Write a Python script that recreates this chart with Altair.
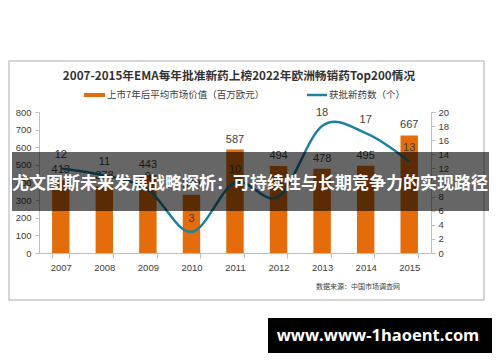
import altair as alt
import pandas as pd

# ---- data ----
years = ["2007", "2008", "2009", "2010", "2011", "2012", "2013", "2014", "2015"]
market_value = [413, 378, 443, 330, 587, 494, 478, 495, 667]   # 上市7年后平均市场价值（百万欧元）
approved = [12, 11, 9, 3, 10, 8, 18, 17, 13]                    # 获批新药数（个）
left_ticks = [0, 100, 200, 300, 400, 500, 600, 700, 800]
right_ticks = [0, 2, 4, 6, 8, 10, 12, 14, 16, 18, 20]

title_text = "2007-2015年EMA每年批准新药上榜2022年欧洲畅销药Top200情况"
legend_bar = "上市7年后平均市场价值（百万欧元）"
legend_line = "获批新药数（个）"
source_text = "数据来源：中国市场调查网"
banner_text = "尤文图斯未来发展战略探析：可持续性与长期竞争力的实现路径"
watermark_text = "www.www-1haoent.com"

ORANGE = "#E46C0A"
BLUE = "#1F80A3"
GRAY_TXT = "#404040"
AXIS_GRAY = "#BFBFBF"
CJK = "Noto Sans CJK SC"
NUM = "Liberation Sans"

df = pd.DataFrame({"year": years, "value": market_value, "count": approved})

def one(t):
    return alt.Chart(pd.DataFrame({"t": [t]}))

x_axis = alt.Axis(title=None, labelAngle=0, tickBand="extent", tickSize=5,
                  tickColor=AXIS_GRAY, domainColor=AXIS_GRAY, labelPadding=4,
                  labelOverlap=False, labelFont=NUM, labelFontSize=9.5, labelColor=GRAY_TXT)
x_scale = alt.Scale(paddingInner=0.6, paddingOuter=0.3)
yl_axis = alt.Axis(title=None, orient="left", values=left_ticks, grid=False,
                   domainColor=AXIS_GRAY, tickColor=AXIS_GRAY, tickSize=4,
                   labelOverlap=False, labelFont=NUM, labelFontSize=9.5,
                   labelColor=GRAY_TXT, labelPadding=4)
yl_scale = alt.Scale(domain=[0, 800], nice=False)
yr_axis = alt.Axis(title=None, orient="right", values=right_ticks, grid=False,
                   domainColor=AXIS_GRAY, tickColor=AXIS_GRAY, tickSize=4,
                   labelOverlap=False, labelFont=NUM, labelFontSize=9.5,
                   labelColor=GRAY_TXT, labelPadding=3)
yr_scale = alt.Scale(domain=[0, 20], nice=False)

X = alt.X("year:N", sort=years, scale=x_scale, axis=x_axis)
YL = alt.Y("value:Q", scale=yl_scale, axis=yl_axis)
YR = alt.Y("count:Q", scale=yr_scale, axis=yr_axis)

base = alt.Chart(df)

# outer frame
frame = one("").mark_rect(fill="transparent", stroke="#C9C9C9", strokeWidth=1.5).encode(
    x=alt.value(-30), x2=alt.value(445), y=alt.value(-51), y2=alt.value(188))

bars = base.mark_bar(color=ORANGE).encode(x=X, y=YL)
bar_labels = base.mark_text(font=NUM, fontSize=11, color=GRAY_TXT, baseline="middle", dy=-10).encode(
    x=X, y=YL, text="value:Q")

left = alt.layer(frame, bars, bar_labels)

line = base.mark_line(color=BLUE, strokeWidth=2.5, interpolate="cardinal").encode(x=X, y=YR)
line_labels = base.mark_text(font=NUM, fontSize=11, color=GRAY_TXT, baseline="middle", dy=-13).encode(
    x=X, y=YR, text="count:Q")

# banner overlay
banner = one("").mark_rect(color="black", opacity=0.6).encode(
    x=alt.value(-27), x2=alt.value(450), y=alt.value(40), y2=alt.value(99))
banner_t = one(banner_text).mark_text(font=CJK, fontSize=17, fontWeight="bold", color="white",
                                      align="center", baseline="middle").encode(
    x=alt.value(211), y=alt.value(72), text="t:N")

# title and legend
title_t = one(title_text).mark_text(font=CJK, fontSize=11.7, fontWeight="bold", color="#333333",
                                    align="center", baseline="middle").encode(
    x=alt.value(200), y=alt.value(-36), text="t:N")
leg_rect = one("").mark_rect(color=ORANGE).encode(
    x=alt.value(45), x2=alt.value(66), y=alt.value(-19), y2=alt.value(-15))
leg_rect_t = one(legend_bar).mark_text(font=CJK, fontSize=9.5, color=GRAY_TXT, align="left",
                                       baseline="middle").encode(
    x=alt.value(68), y=alt.value(-17), text="t:N")
leg_line = one("").mark_rule(color=BLUE, strokeWidth=2.5).encode(
    x=alt.value(268), x2=alt.value(288), y=alt.value(-17))
leg_line_t = one(legend_line).mark_text(font=CJK, fontSize=9.5, color=GRAY_TXT, align="left",
                                        baseline="middle").encode(
    x=alt.value(290), y=alt.value(-17), text="t:N")

source_t = one(source_text).mark_text(font=CJK, fontSize=7, color=GRAY_TXT, align="left",
                                      baseline="middle").encode(
    x=alt.value(277), y=alt.value(175), text="t:N")

# watermark
wm_rect = one("").mark_rect(color="black").encode(
    x=alt.value(229), x2=alt.value(453), y=alt.value(206), y2=alt.value(241))
wm_t = one(watermark_text).mark_text(font="Open Sans", fontSize=16.5, fontWeight="bold", color="white",
                                     align="center", baseline="middle").encode(
    x=alt.value(339), y=alt.value(224), text="t:N")

right = alt.layer(line, line_labels, banner, banner_t, title_t, leg_rect, leg_rect_t,
                  leg_line, leg_line_t, source_t, wm_rect, wm_t)

chart = alt.layer(left, right).resolve_scale(y="independent").properties(
    width=392, height=141,
    padding={"left": 31, "top": 104, "right": 61, "bottom": 101},
    autosize=alt.AutoSizeParams(type="none"),
    background="white",
).configure_view(stroke=None).configure_axis(labelOverlap=False)

chart.save("out.html", embed_options={"renderer": "svg", "actions": False})
